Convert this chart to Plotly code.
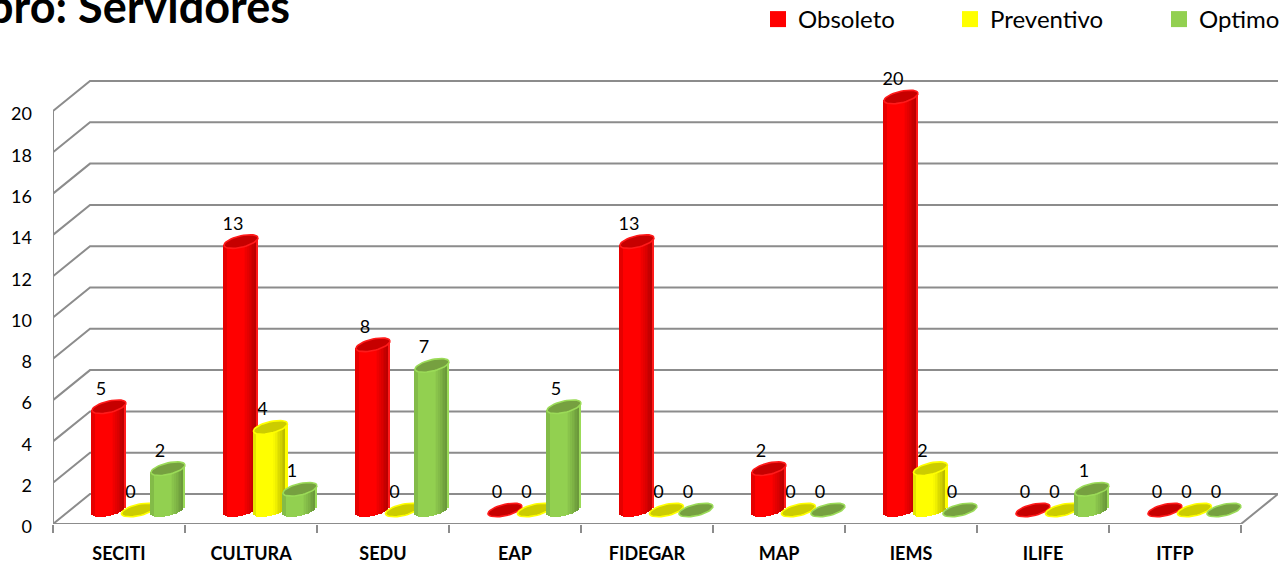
import math
import plotly.graph_objects as go

# ---- data ----
categories = ["SECITI", "CULTURA", "SEDU", "EAP", "FIDEGAR", "MAP", "IEMS", "ILIFE", "ITFP"]
obsoleto   = [5, 13, 8, 0, 13, 2, 20, 0, 0]
preventivo = [0, 4, 0, 0, 0, 0, 2, 0, 0]
optimo     = [2, 1, 7, 5, 0, 0, 0, 1, 0]
y_ticks = list(range(0, 21, 2))

# ---- page geometry (pixels) ----
W, H = 1282, 563
ML, MR, MT, MB = 53, 4, 60, 39
PX_X = 132.0           # pixels per category
PX_Y = 20.65           # pixels per value unit
DEPTH_X = 37 / PX_X    # wall depth in axis units
DEPTH_Y = 30 / PX_Y
FONT = "Lato"
GRID = "#8c8c8c"

x_range = [-0.5, 8.5 + DEPTH_X]
y_range = [0, (H - MT - MB) / PX_Y]

series = [
    dict(name="Obsoleto", vals=obsoleto, rgb=(255, 0, 0), top="#c60000", rim="#ff1a1a", off=-10, z=2),
    dict(name="Preventivo", vals=preventivo, rgb=(255, 255, 0), top="#cccc00", rim="#ffff00", off=19.5, z=3),
    dict(name="Optimo", vals=optimo, rgb=(146, 208, 80), top="#76a040", rim="#9bdb58", off=49, z=4),
]

A, B, S = 17.0, 5.8, 3.6   # ellipse half-width, half-height, tilt (px)
BASE = 14 / PX_Y           # cylinders stand inside the floor
N = 20


def shade(rgb, u):
    if u < -0.8:
        f = 0.9
    elif u < 0.2:
        f = 1.0
    else:
        f = 1.0 - 0.3 * (u - 0.2) / 0.75
    return "rgb(%d,%d,%d)" % tuple(int(c * max(f, 0.68)) for c in rgb)


def ellipse(cx, cy):
    xs, ys = [], []
    for k in range(41):
        t = 2 * math.pi * k / 40
        xs.append(cx + A * math.cos(t) / PX_X)
        ys.append(cy + (S * math.cos(t) + B * math.sin(t)) / PX_Y)
    return xs, ys


fig = go.Figure()

# walls and floor
gx, gy = [], []
for t in y_ticks:
    gx += [-0.5, -0.5 + DEPTH_X, 8.5 + DEPTH_X, None]
    gy += [t, t + DEPTH_Y, t + DEPTH_Y, None]
gx += [-0.5, -0.5, None, -0.5, 8.5, 8.5 + DEPTH_X]
gy += [y_ticks[-1], 0, None, 0, 0, DEPTH_Y]
fig.add_trace(go.Scatter(x=gx, y=gy, mode="lines", line=dict(color=GRID, width=2),
                         showlegend=False, hoverinfo="skip", cliponaxis=False, zorder=1))

# cylinders
for s in series:
    bx, bbase, by, bcol = [], [], [], []
    ex, ey = [], []
    for i, v in enumerate(s["vals"]):
        cx = i + s["off"] / PX_X
        top = BASE + v
        if v > 0:
            for j in range(N):
                u = -1 + (2 * j + 1) / N
                lower = S * u - B * math.sqrt(max(1 - u * u, 0))
                bx.append(cx + u * A / PX_X)
                b0 = BASE + lower / PX_Y
                bbase.append(b0)
                by.append(top + S * u / PX_Y - b0)
                bcol.append(s["rim"] if j == N - 1 else shade(s["rgb"], u))
        xs, ys = ellipse(cx, top)
        ex += xs + [None]
        ey += ys + [None]
    fig.add_trace(go.Bar(x=bx, y=by, base=bbase, width=[2 * A / N / PX_X * 1.15] * len(bx),
                         marker=dict(color=bcol, line=dict(width=0)),
                         showlegend=False, hoverinfo="skip", zorder=s["z"]))
    fig.add_trace(go.Scatter(x=ex, y=ey, mode="lines", fill="toself", fillcolor=s["top"],
                             line=dict(color=s["rim"], width=1.6), showlegend=False,
                             hoverinfo="skip", cliponaxis=False, zorder=s["z"]))

# data labels
for s in series:
    fig.add_trace(go.Scatter(
        x=[i + (s["off"] - 8) / PX_X for i in range(len(categories))],
        y=[BASE + v + 16.5 / PX_Y for v in s["vals"]],
        text=[str(v) for v in s["vals"]], mode="text", textposition="middle center",
        textfont=dict(family=FONT, size=18, color="#000000"),
        showlegend=False, hoverinfo="skip", cliponaxis=False, zorder=6))

# legend, one per entry so that each can sit at its own place
legend_px = [(758, "legend"), (950, "legend2"), (1159, "legend3")]
for s, (px, lg) in zip(series, legend_px):
    fig.add_trace(go.Scatter(x=[None], y=[None], mode="markers", name=s["name"], legend=lg,
                             marker=dict(symbol="square", size=16, color="rgb(%d,%d,%d)" % s["rgb"])))


def legend_cfg(px):
    return dict(x=(px - ML) / (W - ML - MR), y=(H - MB - 5 + 8) / (H - MT - MB),
                xanchor="left", yanchor="top", bgcolor="rgba(0,0,0,0)", borderwidth=0,
                font=dict(family=FONT, size=24, color="#000000"), itemwidth=30,
                itemclick=False, itemdoubleclick=False)


fig.update_layout(
    width=W, height=H, paper_bgcolor="white", plot_bgcolor="white",
    margin=dict(l=ML, r=MR, t=MT, b=MB, autoexpand=False),
    barmode="overlay", bargap=0, showlegend=True,
    legend=legend_cfg(legend_px[0][0]),
    legend2=legend_cfg(legend_px[1][0]),
    legend3=legend_cfg(legend_px[2][0]),
    xaxis=dict(range=x_range, tickmode="array", tickvals=list(range(len(categories))),
               ticktext=categories, showgrid=False, zeroline=False, showline=False,
               ticks="", ticklabelstandoff=17, automargin=False,
               tickfont=dict(family=FONT, size=18, color="#000000", weight="bold"),
               minor=dict(tickmode="array", tickvals=[k - 0.5 for k in range(10)],
                          ticks="outside", ticklen=8, tickcolor=GRID, tickwidth=1.5, showgrid=False)),
    yaxis=dict(range=y_range, tickmode="array", tickvals=y_ticks, showgrid=False,
               zeroline=False, showline=False, ticks="", ticklabelstandoff=20, ticklabelshift=3,
               automargin=False, tickfont=dict(family=FONT, size=18, color="#000000")),
    annotations=[dict(text="<b>bro: Servidores</b>", xref="paper", yref="paper",
                      x=(292 - ML) / (W - ML - MR), y=(H - MB - 6) / (H - MT - MB),
                      xanchor="right", yanchor="middle", showarrow=False,
                      font=dict(family=FONT, size=45, color="#000000"))],
)

fig.write_html("out.html", post_script="document.body.style.margin='0';document.body.style.overflow='hidden';",
               config=dict(displayModeBar=False))
